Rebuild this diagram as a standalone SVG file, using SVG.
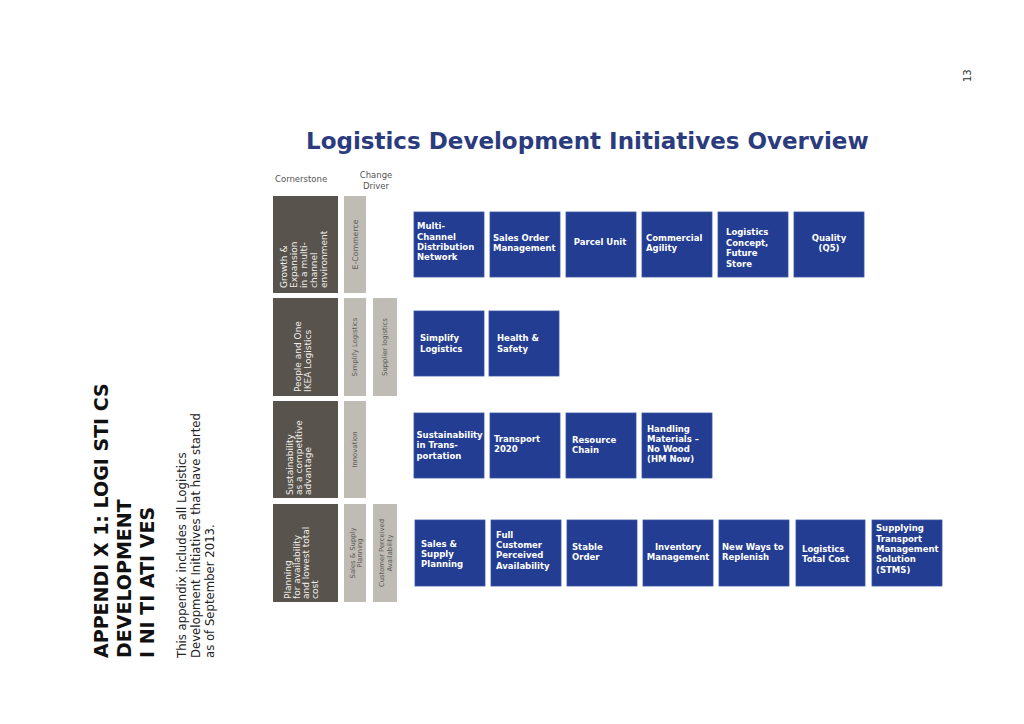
<svg xmlns="http://www.w3.org/2000/svg" width="1024" height="724" viewBox="0 0 1024 724">
<style>
.bg{fill:#ffffff}
.cs{fill:#58534d}
.cd{fill:#bfbcb6}
.bx{fill:#223d92;stroke:#3a54a6;stroke-width:0.8}
.bt{font-family:"DejaVu Sans",Verdana,sans-serif;font-weight:bold;font-size:8.5px;fill:#ffffff}
.cst{font-family:"DejaVu Sans",sans-serif;font-size:9px;fill:#f0eee9}
.cdt{font-family:"DejaVu Sans",sans-serif;font-size:6.8px;fill:#5a5752}
.hd{font-family:"DejaVu Sans",sans-serif;font-size:8.5px;fill:#555555}
.title{font-family:"DejaVu Sans",Verdana,sans-serif;font-weight:bold;font-size:23px;fill:#2a3b7e}
.app{font-family:"DejaVu Sans",sans-serif;font-weight:bold;font-size:19px;fill:#111111}
.par{font-family:"DejaVu Sans",sans-serif;font-size:11.7px;fill:#222222}
.pg{font-family:"DejaVu Sans",sans-serif;font-size:10px;fill:#333333}
</style>
<rect class="bg" x="0" y="0" width="1024" height="724"/>

<text class="pg" transform="translate(971,82) rotate(-90)">13</text>

<g id="appendix">
<text class="app" transform="translate(108,658) rotate(-90)">APPENDI X 1: LOGI STI CS</text>
<text class="app" transform="translate(131,658) rotate(-90)">DEVELOPMENT</text>
<text class="app" transform="translate(154,658) rotate(-90)">I NI TI ATI VES</text>
<text class="par" transform="translate(186,658) rotate(-90)">This appendix includes all Logistics</text>
<text class="par" transform="translate(200,658) rotate(-90)">Development Initiatives that have started</text>
<text class="par" transform="translate(214,658) rotate(-90)">as of September 2013.</text>
</g>

<text class="title" x="306" y="149">Logistics Development Initiatives Overview</text>

<g id="headers">
<text class="hd" x="275" y="182">Cornerstone</text>
<text class="hd" x="376" y="178" text-anchor="middle">Change</text>
<text class="hd" x="376" y="189" text-anchor="middle">Driver</text>
</g>

<g id="cornerstone-1">
<rect class="cs" x="273" y="196" width="65" height="97"/>
<text class="cst" transform="translate(287,288) rotate(-90)">Growth &amp;</text>
<text class="cst" transform="translate(297,288) rotate(-90)">Expansion</text>
<text class="cst" transform="translate(307,288) rotate(-90)">in a multi-</text>
<text class="cst" transform="translate(317,288) rotate(-90)">channel</text>
<text class="cst" transform="translate(327,288) rotate(-90)">environment</text>
</g>
<g id="cornerstone-2">
<rect class="cs" x="273" y="298" width="65" height="98"/>
<text class="cst" transform="translate(301,392) rotate(-90)">People and One</text>
<text class="cst" transform="translate(311,392) rotate(-90)">IKEA Logistics</text>
</g>
<g id="cornerstone-3">
<rect class="cs" x="273" y="401" width="65" height="97"/>
<text class="cst" transform="translate(293,495) rotate(-90)">Sustainability</text>
<text class="cst" transform="translate(302,495) rotate(-90)">as a competitive</text>
<text class="cst" transform="translate(311,495) rotate(-90)">advantage</text>
</g>
<g id="cornerstone-4">
<rect class="cs" x="273" y="504" width="65" height="98"/>
<text class="cst" transform="translate(291,599) rotate(-90)">Planning</text>
<text class="cst" transform="translate(300,599) rotate(-90)">for availability</text>
<text class="cst" transform="translate(309,599) rotate(-90)">and lowest total</text>
<text class="cst" transform="translate(318,599) rotate(-90)">cost</text>
</g>

<g id="driver-ecommerce">
<rect class="cd" x="344" y="196" width="22" height="97"/>
<text class="cdt" style="font-size:7.8px" transform="translate(357.8,244.5) rotate(-90)" text-anchor="middle">E-Commerce</text>
</g>
<g id="driver-simplify">
<rect class="cd" x="344" y="298" width="22" height="98"/>
<text class="cdt" transform="translate(357.4,347) rotate(-90)" text-anchor="middle">Simplify Logistics</text>
</g>
<g id="driver-supplier">
<rect class="cd" x="373" y="298" width="24" height="98"/>
<text class="cdt" transform="translate(387.4,347) rotate(-90)" text-anchor="middle">Supplier logistics</text>
</g>
<g id="driver-innovation">
<rect class="cd" x="344" y="401" width="22" height="97"/>
<text class="cdt" transform="translate(357.4,449.5) rotate(-90)" text-anchor="middle">Innovation</text>
</g>
<g id="driver-ssp">
<rect class="cd" x="344" y="504" width="22" height="98"/>
<text class="cdt" transform="translate(354.5,553) rotate(-90)" text-anchor="middle">Sales &amp; Supply</text>
<text class="cdt" transform="translate(362,553) rotate(-90)" text-anchor="middle">Planning</text>
</g>
<g id="driver-cpa">
<rect class="cd" x="373" y="504" width="24" height="98"/>
<text class="cdt" transform="translate(384,553) rotate(-90)" text-anchor="middle">Customer Perceived</text>
<text class="cdt" transform="translate(391.5,553) rotate(-90)" text-anchor="middle">Availability</text>
</g>

<!-- Row 1 -->
<g id="n-multichannel">
<rect class="bx" x="414" y="212" width="70" height="65"/>
<text class="bt" x="417" y="229">Multi-</text>
<text class="bt" x="417" y="240">Channel</text>
<text class="bt" x="417" y="250">Distribution</text>
<text class="bt" x="417" y="260">Network</text>
</g>
<g id="n-salesorder">
<rect class="bx" x="490" y="212" width="70" height="65"/>
<text class="bt" x="493" y="241">Sales Order</text>
<text class="bt" x="493" y="251">Management</text>
</g>
<g id="n-parcel">
<rect class="bx" x="566" y="212" width="70" height="65"/>
<text class="bt" x="600" y="245" text-anchor="middle">Parcel Unit</text>
</g>
<g id="n-commercial">
<rect class="bx" x="642" y="212" width="70" height="65"/>
<text class="bt" x="646" y="241">Commercial</text>
<text class="bt" x="646" y="251">Agility</text>
</g>
<g id="n-concept">
<rect class="bx" x="718" y="212" width="70" height="65"/>
<text class="bt" x="726" y="235">Logistics</text>
<text class="bt" x="726" y="246">Concept,</text>
<text class="bt" x="726" y="256">Future</text>
<text class="bt" x="726" y="267">Store</text>
</g>
<g id="n-quality">
<rect class="bx" x="794" y="212" width="70" height="65"/>
<text class="bt" x="829" y="241" text-anchor="middle">Quality</text>
<text class="bt" x="829" y="251" text-anchor="middle">(Q5)</text>
</g>

<!-- Row 2 -->
<g id="n-simplify">
<rect class="bx" x="414" y="311" width="70" height="65"/>
<text class="bt" x="420" y="341">Simplify</text>
<text class="bt" x="420" y="352">Logistics</text>
</g>
<g id="n-health">
<rect class="bx" x="489" y="311" width="70" height="65"/>
<text class="bt" x="497" y="341">Health &amp;</text>
<text class="bt" x="497" y="352">Safety</text>
</g>

<!-- Row 3 -->
<g id="n-sustain">
<rect class="bx" x="414" y="413" width="70" height="65"/>
<text class="bt" x="416.5" y="438">Sustainability</text>
<text class="bt" x="416.5" y="448">in Trans-</text>
<text class="bt" x="416.5" y="459">portation</text>
</g>
<g id="n-transport">
<rect class="bx" x="490" y="413" width="70" height="65"/>
<text class="bt" x="494" y="442">Transport</text>
<text class="bt" x="494" y="452">2020</text>
</g>
<g id="n-resource">
<rect class="bx" x="566" y="413" width="70" height="65"/>
<text class="bt" x="572" y="443">Resource</text>
<text class="bt" x="572" y="453">Chain</text>
</g>
<g id="n-handling">
<rect class="bx" x="642" y="413" width="70" height="65"/>
<text class="bt" x="647" y="432">Handling</text>
<text class="bt" x="647" y="442">Materials –</text>
<text class="bt" x="647" y="452">No Wood</text>
<text class="bt" x="647" y="462">(HM Now)</text>
</g>

<!-- Row 4 -->
<g id="n-ssp">
<rect class="bx" x="415" y="520" width="70" height="66"/>
<text class="bt" x="421" y="547">Sales &amp;</text>
<text class="bt" x="421" y="557">Supply</text>
<text class="bt" x="421" y="567">Planning</text>
</g>
<g id="n-fcpa">
<rect class="bx" x="491" y="520" width="70" height="66"/>
<text class="bt" x="496" y="538">Full</text>
<text class="bt" x="496" y="548">Customer</text>
<text class="bt" x="496" y="558">Perceived</text>
<text class="bt" x="496" y="569">Availability</text>
</g>
<g id="n-stable">
<rect class="bx" x="567" y="520" width="70" height="66"/>
<text class="bt" x="572" y="550">Stable</text>
<text class="bt" x="572" y="560">Order</text>
</g>
<g id="n-inventory">
<rect class="bx" x="643" y="520" width="70" height="66"/>
<text class="bt" x="678" y="550" text-anchor="middle">Inventory</text>
<text class="bt" x="678" y="560" text-anchor="middle">Management</text>
</g>
<g id="n-newways">
<rect class="bx" x="719" y="520" width="70" height="66"/>
<text class="bt" x="722" y="550">New Ways to</text>
<text class="bt" x="722" y="560">Replenish</text>
</g>
<g id="n-totalcost">
<rect class="bx" x="796" y="520" width="69" height="66"/>
<text class="bt" x="802" y="552">Logistics</text>
<text class="bt" x="802" y="562">Total Cost</text>
</g>
<g id="n-stms">
<rect class="bx" x="872" y="520" width="70" height="66"/>
<text class="bt" x="876" y="531">Supplying</text>
<text class="bt" x="876" y="542">Transport</text>
<text class="bt" x="876" y="552">Management</text>
<text class="bt" x="876" y="562">Solution</text>
<text class="bt" x="876" y="573">(STMS)</text>
</g>

<g id="connectors"></g>
</svg>
